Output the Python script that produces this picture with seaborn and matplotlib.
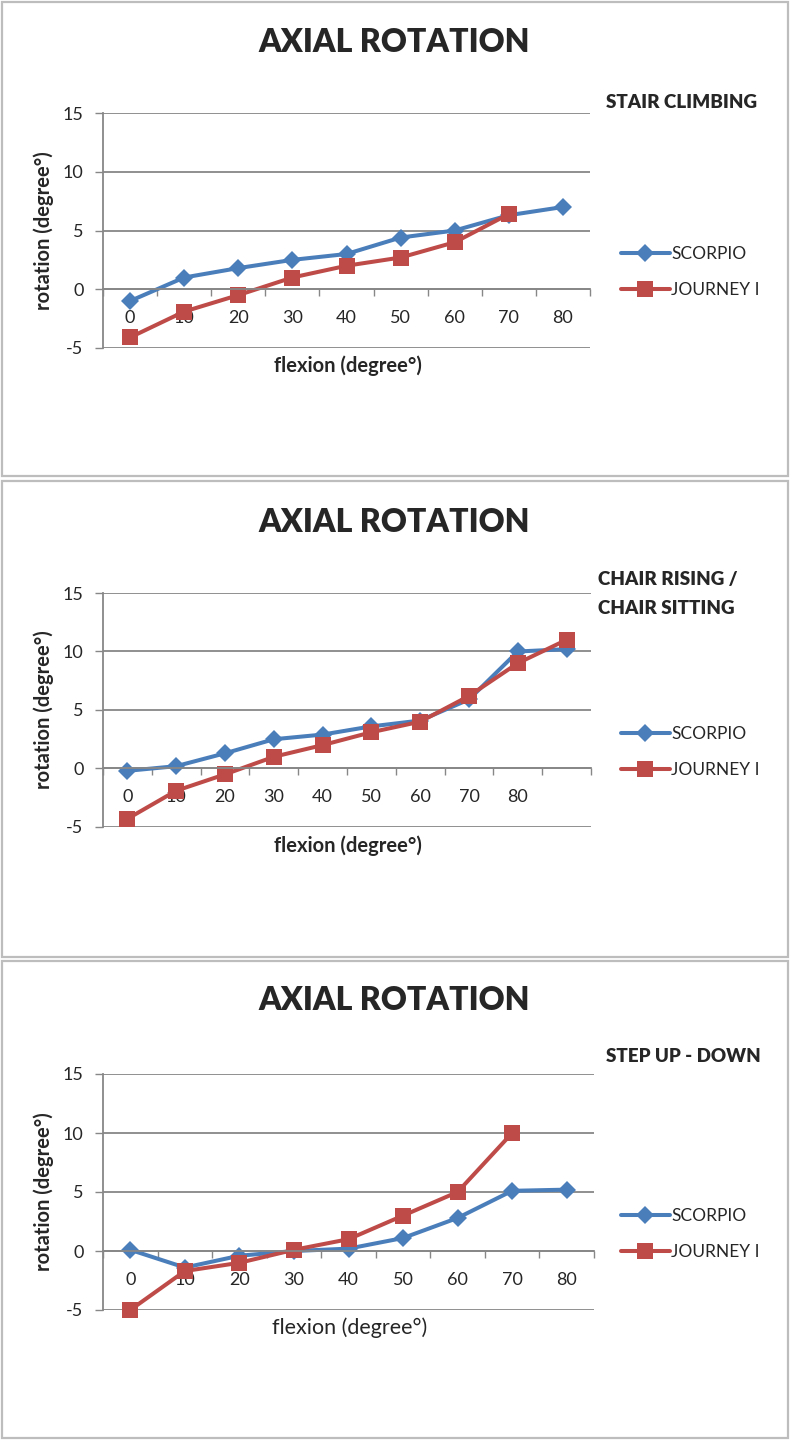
import numpy as np
import pandas as pd
import seaborn as sns
import matplotlib.pyplot as plt
from matplotlib.patches import Rectangle

# ---- data ----
series = ["SCORPIO", "JOURNEY I"]
flexion = ["0", "10", "20", "30", "40", "50", "60", "70", "80"]

stair_scorpio = [-1.0, 1.0, 1.8, 2.5, 3.0, 4.4, 5.0, 6.3, 7.0]
stair_journey = [-4.1, -1.9, -0.5, 1.0, 2.0, 2.7, 4.0, 6.4, np.nan]

# chair panel has a 10th, unlabelled category
chair_flexion = flexion + [""]
chair_scorpio = [-0.2, 0.2, 1.3, 2.5, 2.9, 3.6, 4.1, 5.9, 10.0, 10.2]
chair_journey = [-4.3, -1.9, -0.5, 1.0, 2.0, 3.1, 4.0, 6.2, 9.0, 11.0]

step_scorpio = [0.1, -1.4, -0.4, 0.0, 0.2, 1.1, 2.8, 5.1, 5.2]
step_journey = [-5.0, -1.7, -1.0, 0.1, 1.0, 3.0, 5.0, 10.0, np.nan]

subtitles = ["STAIR CLIMBING", "CHAIR RISING /\nCHAIR SITTING", "STEP UP - DOWN"]

colors = {"SCORPIO": "#4A7EBB", "JOURNEY I": "#BE4B48"}
markers = {"SCORPIO": "D", "JOURNEY I": "s"}
msize = {"SCORPIO": 9.5, "JOURNEY I": 11}

W, H = 790, 1440
sns.set_theme(style="white")
plt.rcParams["font.family"] = ["Lato", "DejaVu Sans"]
plt.rcParams["axes.unicode_minus"] = False

fig = plt.figure(figsize=(W / 100, H / 100), dpi=100)


def fx(x):
    return x / W


def fy(y):
    return 1 - y / H


# pixel layout of each panel: box top/bottom, axes left/right/top/bottom,
# title y, subtitle x/y, legend y, xlabel y
layout = [
    dict(box=(2, 476), ax=(103, 590, 113, 348), title=42, sub=(606, 102), leg=272, xlab=366, xbold=True),
    dict(box=(481, 957), ax=(103, 591, 593, 827), title=522, sub=(598, 579), leg=752, xlab=846, xbold=True),
    dict(box=(961, 1438), ax=(103, 594, 1074, 1310), title=1001, sub=(606, 1057), leg=1234, xlab=1328, xbold=False),
]
panels = [
    (flexion, stair_scorpio, stair_journey),
    (chair_flexion, chair_scorpio, chair_journey),
    (flexion, step_scorpio, step_journey),
]

for (labels, scorpio, journey), lay, sub in zip(panels, layout, subtitles):
    top, bot = lay["box"]
    fig.add_artist(Rectangle((fx(2), fy(bot)), fx(786), (bot - top) / H,
                             transform=fig.transFigure, fill=False,
                             edgecolor="#BDBDBD", lw=1.6))

    l, r, t, b = lay["ax"]
    ax = fig.add_axes([fx(l), fy(b), (r - l) / W, (b - t) / H])
    n = len(labels)
    df = pd.DataFrame({
        "pos": list(range(n)) * 2,
        "rotation": list(scorpio) + list(journey),
        "series": [series[0]] * n + [series[1]] * n,
    })
    for s in series:
        sns.lineplot(data=df[df["series"] == s], x="pos", y="rotation",
                     color=colors[s], marker=markers[s], markersize=msize[s],
                     markeredgewidth=0, linewidth=2.9, ax=ax, legend=False)
    for line in ax.lines:
        line.set_clip_on(False)

    ax.set_xlim(-0.5, n - 0.5)
    ax.set_ylim(-5, 15)
    ax.set_yticks([-5, 0, 5, 10, 15])
    ax.set_xticks(range(n))
    ax.set_xticklabels(labels)
    ax.set_xticks(np.arange(-0.5, n, 1.0), minor=True)
    ax.set_xlabel("")
    ax.set_ylabel("")
    ax.grid(axis="y", color="#878787", lw=1.3)
    ax.set_axisbelow(True)
    for sp in ["top", "right"]:
        ax.spines[sp].set_visible(False)
    ax.spines["bottom"].set_position(("data", 0))
    ax.spines["bottom"].set_color("#878787")
    ax.spines["left"].set_color("#878787")
    ax.spines["bottom"].set_linewidth(1.3)
    ax.spines["left"].set_linewidth(1.3)
    ax.tick_params(axis="x", which="major", length=0, pad=15, labelsize=13)
    ax.tick_params(axis="x", which="minor", length=5, width=1, color="#878787",
                   direction="out", bottom=True)
    ax.tick_params(axis="y", length=6, width=1, color="#878787", left=True,
                   pad=8, labelsize=13)

    ax.legend(handles=ax.lines[:2], labels=series, loc="center left",
              bbox_to_anchor=(fx(621), fy(lay["leg"])),
              bbox_transform=fig.transFigure, frameon=False, fontsize=12.5,
              handlelength=2.8, handletextpad=0.1, labelspacing=1.15,
              borderpad=0, borderaxespad=0)

    fig.text(fx(394), fy(lay["title"]), "AXIAL ROTATION", ha="center",
             va="center", fontsize=23, fontweight="heavy")
    sx, sy = lay["sub"]
    for i, part in enumerate(sub.split("\n")):
        fig.text(fx(sx), fy(sy + 29 * i), part, ha="left", va="center",
                 fontsize=13.5, fontweight="heavy")
    fig.text(fx(44), fy((t + b) / 2), "rotation (degree°)", rotation=90,
             ha="center", va="center", fontsize=14.5, fontweight="bold")
    if lay["xbold"]:
        fig.text(fx(348), fy(lay["xlab"]), "flexion (degree°)", ha="center",
                 va="center", fontsize=14.5, fontweight="bold")
    else:
        fig.text(fx(350), fy(lay["xlab"]), "flexion (degree°)", ha="center",
                 va="center", fontsize=15.5)

fig.savefig("out.png", dpi=100)
